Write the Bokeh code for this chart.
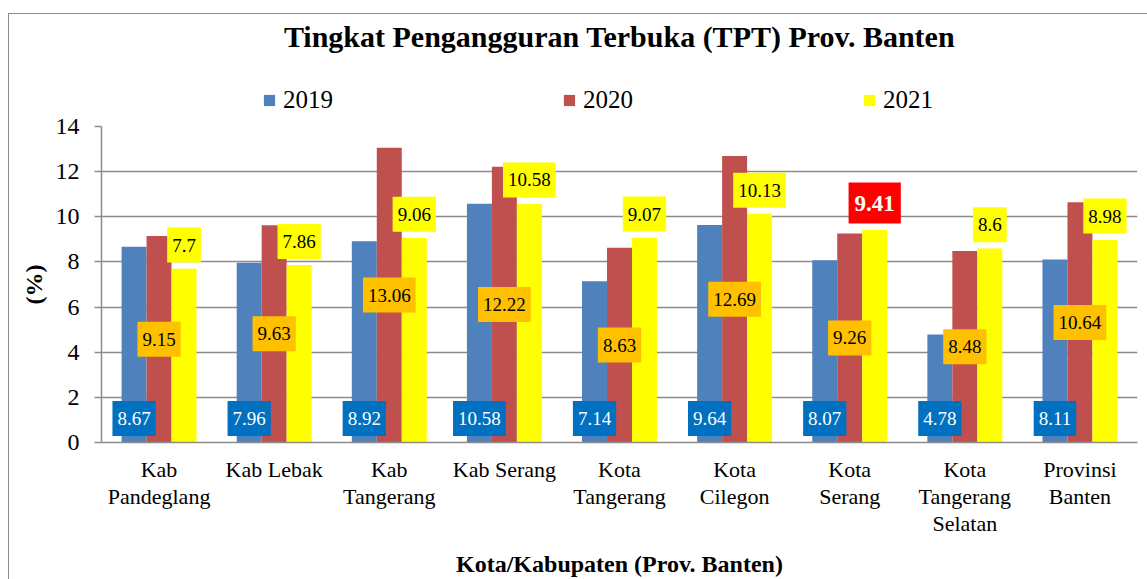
from bokeh.plotting import figure
from bokeh.models import Label, Legend, LegendItem, FixedTicker, Range1d
from bokeh.layouts import column
from bokeh.embed import file_html
from bokeh.resources import INLINE

categories = ["Kab\nPandeglang", "Kab Lebak", "Kab\nTangerang", "Kab Serang", "Kota\nTangerang",
              "Kota\nCilegon", "Kota\nSerang", "Kota\nTangerang\nSelatan", "Provinsi\nBanten"]
years = ["2019", "2020", "2021"]
tpt_2019 = [8.67, 7.96, 8.92, 10.58, 7.14, 9.64, 8.07, 4.78, 8.11]
tpt_2020 = [9.15, 9.63, 13.06, 12.22, 8.63, 12.69, 9.26, 8.48, 10.64]
tpt_2021 = [7.7, 7.86, 9.06, 10.58, 9.07, 10.13, 9.41, 8.6, 8.98]
y_ticks = [0, 2, 4, 6, 8, 10, 12, 14]
highlight_index = 6  # Kota Serang 2021

FONT = "Liberation Serif"
bar_colors = ["#4F81BD", "#C0504D", "#FFFF00"]
label_bg = ["#0070C0", "#FFC000", "#FFFF00"]

n = len(categories)
xr = Range1d(0, n)
bw = 0.217
offsets = [-bw, 0, bw]
series = [tpt_2019, tpt_2020, tpt_2021]

# ---- header: title + legend ----
hdr = figure(width=1138, height=98, output_backend="svg", toolbar_location=None,
             x_range=xr, y_range=Range1d(0, 1),
             min_border_left=92, min_border_right=10, min_border_top=0, min_border_bottom=0)
hdr.axis.visible = False
hdr.grid.grid_line_color = None
hdr.outline_line_color = None
hdr.add_layout(Label(x=n / 2, y=0.771, text="Tingkat Pengangguran Terbuka (TPT) Prov. Banten",
                     text_font=FONT, text_font_size="30px", text_font_style="bold",
                     text_align="center", text_baseline="middle", text_color="black"))
legend_rs = []
for k, vals in enumerate(series):
    xs = [i + 0.5 + offsets[k] for i in range(n)]
    legend_rs.append(hdr.vbar(x=xs, top=vals, width=bw, fill_color=bar_colors[k],
                              line_color=None, visible=False))
legend = Legend(items=[LegendItem(label=y, renderers=[r]) for y, r in zip(years, legend_rs)],
                location=(161, -2), orientation="horizontal", padding=0, margin=0, spacing=0,
                glyph_width=14, glyph_height=14, label_standoff=7, label_width=279,
                label_text_font=FONT, label_text_font_size="25px", label_text_color="black",
                border_line_color=None, background_fill_alpha=0, inactive_fill_alpha=0)
hdr.add_layout(legend, "center")

# ---- main chart ----
p = figure(width=1138, height=467, output_backend="svg", toolbar_location=None,
           x_range=xr, y_range=Range1d(0, 14),
           min_border_left=92, min_border_right=10, min_border_top=14, min_border_bottom=137)
p.outline_line_color = None
p.background_fill_color = "white"
p.border_fill_color = "white"

for k, vals in enumerate(series):
    xs = [i + 0.5 + offsets[k] for i in range(n)]
    p.vbar(x=xs, top=vals, width=bw, fill_color=bar_colors[k], line_color=None)

# data labels
for k, vals in enumerate(series):
    for i, v in enumerate(vals):
        x = i + 0.5 + offsets[k]
        if k == 0:
            lab = Label(x=x, y=1.06, text=f"{v:g}", text_color="white", text_font=FONT,
                        text_font_size="19px", text_align="center", text_baseline="middle",
                        background_fill_color=label_bg[0], padding=(5, 11))
        elif k == 1:
            lab = Label(x=x, y=v / 2, text=f"{v:g}", text_color="black", text_font=FONT,
                        text_font_size="19px", text_align="center", text_baseline="middle",
                        background_fill_color=label_bg[1], padding=(5, 11))
        else:
            if i == highlight_index:
                lab = Label(x=x, y=v + 1.2, text=f"{v:g}", text_color="white", text_font=FONT,
                            text_font_size="23px", text_font_style="bold", text_align="center",
                            text_baseline="middle", background_fill_color="#FF0000", padding=(6, 13))
            else:
                lab = Label(x=x, y=v + 1.05, text=f"{v:g}", text_color="black", text_font=FONT,
                            text_font_size="19px", text_align="center", text_baseline="middle",
                            background_fill_color=label_bg[2], padding=(5, 11))
        p.add_layout(lab)

# axes
p.xgrid.grid_line_color = None
p.ygrid.grid_line_color = "#8c8c8c"
p.ygrid.grid_line_width = 1.5
p.yaxis.ticker = FixedTicker(ticks=y_ticks)
p.yaxis.minor_tick_line_color = None
p.yaxis.major_tick_out = 7
p.yaxis.major_tick_in = 0
p.yaxis.major_tick_line_color = "#8c8c8c"
p.yaxis.major_tick_line_width = 1.5
p.yaxis.axis_line_color = "#8c8c8c"
p.yaxis.axis_line_width = 1.5
p.yaxis.major_label_text_font = FONT
p.yaxis.major_label_text_font_size = "24px"
p.yaxis.major_label_text_color = "black"
p.yaxis.major_label_standoff = 15
p.yaxis.axis_label = "(%)"
p.yaxis.axis_label_text_font = FONT
p.yaxis.axis_label_text_font_size = "24px"
p.yaxis.axis_label_text_font_style = "bold"
p.yaxis.axis_label_text_color = "black"
p.yaxis.axis_label_standoff = 6

xt = [i + 0.5 for i in range(n)]
p.xaxis.ticker = FixedTicker(ticks=xt)
p.xaxis.major_label_overrides = {t: c for t, c in zip(xt, categories)}
p.xaxis.minor_tick_line_color = None
p.xaxis.major_tick_line_color = None
p.xaxis.axis_line_color = "#8c8c8c"
p.xaxis.axis_line_width = 1.5
p.xaxis.major_label_text_font = FONT
p.xaxis.major_label_text_font_size = "22px"
p.xaxis.major_label_text_line_height = 1.08
p.xaxis.major_label_text_color = "black"
p.xaxis.major_label_standoff = 8
p.xaxis.axis_label = "Kota/Kabupaten (Prov. Banten)"
p.xaxis.axis_label_text_font = FONT
p.xaxis.axis_label_text_font_size = "24px"
p.xaxis.axis_label_text_font_style = "bold"
p.xaxis.axis_label_text_color = "black"
p.xaxis.axis_label_standoff = 12

layout = column(hdr, p, spacing=0,
                styles={"margin-left": "8px", "margin-top": "13px",
                        "border-left": "1px solid #8c8c8c", "border-top": "1px solid #8c8c8c"})

open("out.html", "w").write(file_html(layout, INLINE))
